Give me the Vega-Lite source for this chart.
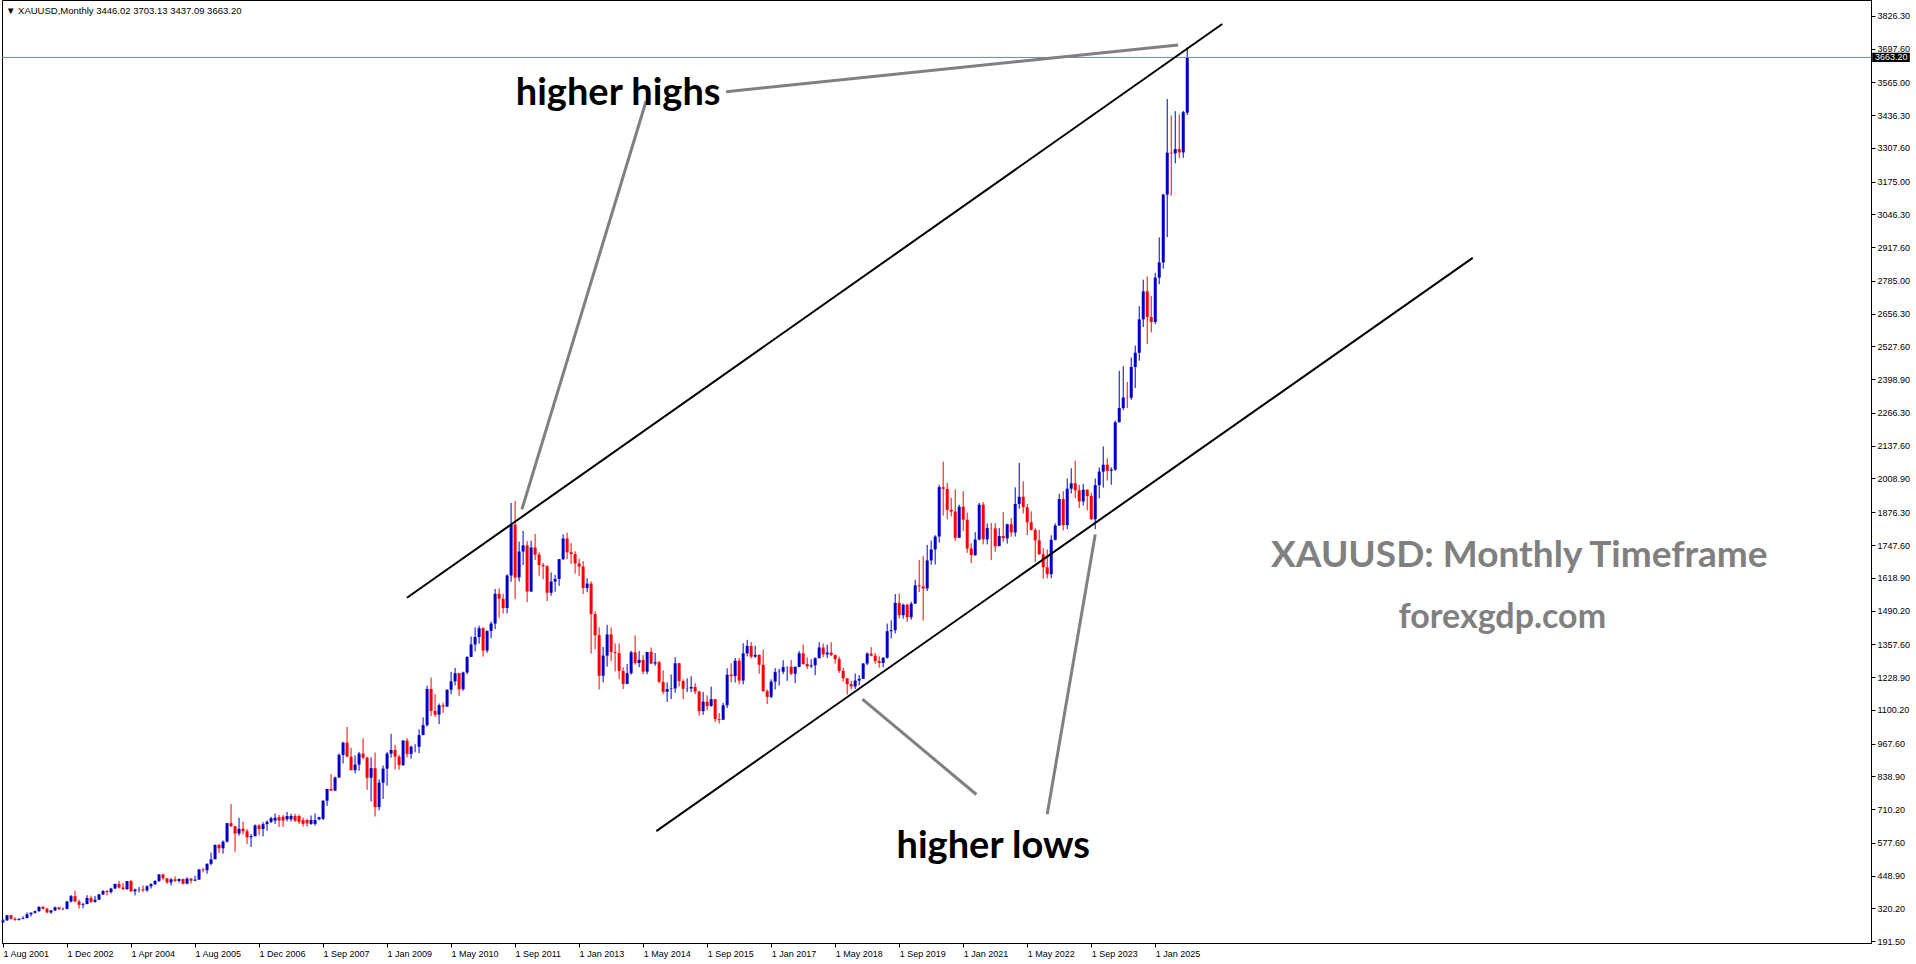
{
"$schema": "https://vega.github.io/schema/vega-lite/v6.json",
"width": 1869, "height": 943,
"autosize": {"type": "none"},
"padding": {"left": 2, "top": 0, "right": 45, "bottom": 21},
"background": "white",
"config": {"view": {"stroke": "#000000", "strokeWidth": 1}, "axis": {"grid": false, "title": null, "domainColor": "#000000", "tickColor": "#000000", "labelColor": "#000000", "labelFont": "Liberation Sans", "labelFontSize": 9, "labelOverlap": false, "labelSeparation": 0, "labelBound": false}},
"datasets": {
"candles": [
{"i":0,"o":265,"h":279,"l":264,"c":273},{"i":1,"o":273,"h":294,"l":271,"c":293},{"i":2,"o":293,"h":294,"l":276,"c":279},{"i":3,"o":279,"h":285,"l":271,"c":275},{"i":4,"o":275,"h":281,"l":272,"c":279},
{"i":5,"o":279,"h":289,"l":277,"c":282},{"i":6,"o":282,"h":304,"l":281,"c":297},{"i":7,"o":297,"h":304,"l":288,"c":303},{"i":8,"o":303,"h":311,"l":299,"c":309},{"i":9,"o":309,"h":328,"l":307,"c":326},{"i":10,"o":326,"h":330,"l":316,"c":318},{"i":11,"o":318,"h":323,"l":301,"c":304},{"i":12,"o":304,"h":314,"l":299,"c":312},{"i":13,"o":312,"h":327,"l":309,"c":324},{"i":14,"o":324,"h":326,"l":313,"c":317},{"i":15,"o":317,"h":323,"l":313,"c":318},{"i":16,"o":318,"h":349,"l":316,"c":347},
{"i":17,"o":347,"h":373,"l":343,"c":368},{"i":18,"o":368,"h":390,"l":345,"c":347},{"i":19,"o":347,"h":354,"l":319,"c":334},{"i":20,"o":334,"h":342,"l":320,"c":337},{"i":21,"o":337,"h":372,"l":336,"c":361},{"i":22,"o":361,"h":370,"l":341,"c":346},{"i":23,"o":346,"h":369,"l":342,"c":354},{"i":24,"o":354,"h":377,"l":353,"c":375},{"i":25,"o":375,"h":392,"l":372,"c":388},{"i":26,"o":388,"h":392,"l":371,"c":384},{"i":27,"o":384,"h":401,"l":378,"c":398},{"i":28,"o":398,"h":417,"l":396,"c":416},
{"i":29,"o":416,"h":428,"l":398,"c":402},{"i":30,"o":402,"h":420,"l":392,"c":396},{"i":31,"o":396,"h":427,"l":392,"c":427},{"i":32,"o":427,"h":432,"l":386,"c":387},{"i":33,"o":387,"h":398,"l":371,"c":394},{"i":34,"o":394,"h":404,"l":383,"c":395},{"i":35,"o":395,"h":410,"l":384,"c":391},{"i":36,"o":391,"h":410,"l":385,"c":407},{"i":37,"o":407,"h":419,"l":398,"c":415},{"i":38,"o":415,"h":430,"l":411,"c":428},{"i":39,"o":428,"h":455,"l":424,"c":453},{"i":40,"o":453,"h":457,"l":430,"c":438},
{"i":41,"o":438,"h":440,"l":416,"c":422},{"i":42,"o":422,"h":439,"l":410,"c":434},{"i":43,"o":434,"h":446,"l":424,"c":428},{"i":44,"o":428,"h":438,"l":421,"c":435},{"i":45,"o":435,"h":437,"l":414,"c":417},{"i":46,"o":417,"h":442,"l":415,"c":437},{"i":47,"o":437,"h":439,"l":418,"c":429},{"i":48,"o":429,"h":448,"l":427,"c":433},{"i":49,"o":433,"h":474,"l":432,"c":473},{"i":50,"o":473,"h":478,"l":461,"c":470},{"i":51,"o":470,"h":497,"l":456,"c":495},{"i":52,"o":495,"h":539,"l":489,"c":513},
{"i":53,"o":513,"h":572,"l":513,"c":569},{"i":54,"o":569,"h":574,"l":538,"c":556},{"i":55,"o":556,"h":587,"l":535,"c":582},{"i":56,"o":582,"h":655,"l":579,"c":655},{"i":57,"o":655,"h":730,"l":640,"c":643},{"i":58,"o":643,"h":644,"l":542,"c":614},{"i":59,"o":614,"h":676,"l":606,"c":633},{"i":60,"o":633,"h":661,"l":611,"c":623},{"i":61,"o":623,"h":632,"l":573,"c":599},{"i":62,"o":599,"h":612,"l":561,"c":604},{"i":63,"o":604,"h":650,"l":603,"c":646},{"i":64,"o":646,"h":650,"l":607,"c":632},
{"i":65,"o":632,"h":659,"l":603,"c":651},{"i":66,"o":651,"h":666,"l":625,"c":660},{"i":67,"o":660,"h":680,"l":655,"c":674},{"i":68,"o":665,"h":693,"l":652,"c":676},{"i":69,"o":678,"h":687,"l":640,"c":665},{"i":70,"o":680,"h":687,"l":640,"c":665},{"i":71,"o":670,"h":699,"l":662,"c":683},{"i":72,"o":670,"h":692,"l":661,"c":683},{"i":73,"o":683,"h":692,"l":660,"c":664},{"i":74,"o":683,"h":688,"l":652,"c":660},{"i":75,"o":667,"h":677,"l":641,"c":652},{"i":76,"o":667,"h":672,"l":641,"c":654},{"i":77,"o":652,"h":685,"l":648,"c":667},{"i":78,"o":652,"h":693,"l":645,"c":667},{"i":79,"o":670,"h":680,"l":666,"c":678},
{"i":80,"o":672,"h":745,"l":667,"c":743},{"i":81,"o":743,"h":790,"l":723,"c":789},{"i":82,"o":789,"h":848,"l":781,"c":783},{"i":83,"o":783,"h":838,"l":781,"c":834},
{"i":84,"o":834,"h":929,"l":833,"c":923},{"i":85,"o":923,"h":975,"l":889,"c":971},{"i":86,"o":971,"h":1033,"l":916,"c":916},{"i":87,"o":916,"h":951,"l":863,"c":863},{"i":88,"o":863,"h":921,"l":850,"c":885},{"i":89,"o":885,"h":935,"l":861,"c":928},{"i":90,"o":928,"h":988,"l":906,"c":912},{"i":91,"o":912,"h":916,"l":786,"c":833},{"i":92,"o":833,"h":913,"l":740,"c":871},{"i":93,"o":871,"h":932,"l":681,"c":718},{"i":94,"o":718,"h":827,"l":705,"c":814},{"i":95,"o":814,"h":881,"l":750,"c":869},
{"i":96,"o":869,"h":935,"l":802,"c":928},{"i":97,"o":928,"h":1006,"l":912,"c":942},{"i":98,"o":942,"h":962,"l":866,"c":916},{"i":99,"o":916,"h":924,"l":865,"c":883},{"i":100,"o":883,"h":981,"l":880,"c":979},{"i":101,"o":979,"h":989,"l":913,"c":927},{"i":102,"o":927,"h":960,"l":908,"c":955},{"i":103,"o":955,"h":965,"l":933,"c":955},{"i":104,"o":955,"h":1024,"l":930,"c":1001},{"i":105,"o":1001,"h":1070,"l":1000,"c":1040},{"i":106,"o":1040,"h":1195,"l":1034,"c":1182},{"i":107,"o":1182,"h":1227,"l":1075,"c":1096},
{"i":108,"o":1096,"h":1162,"l":1072,"c":1081},{"i":109,"o":1081,"h":1125,"l":1044,"c":1118},{"i":110,"o":1118,"h":1128,"l":1088,"c":1113},{"i":111,"o":1113,"h":1181,"l":1111,"c":1179},{"i":112,"o":1179,"h":1249,"l":1161,"c":1212},{"i":113,"o":1212,"h":1265,"l":1196,"c":1244},{"i":114,"o":1244,"h":1245,"l":1155,"c":1181},{"i":115,"o":1181,"h":1250,"l":1175,"c":1247},{"i":116,"o":1247,"h":1310,"l":1240,"c":1308},{"i":117,"o":1308,"h":1388,"l":1307,"c":1357},{"i":118,"o":1357,"h":1424,"l":1330,"c":1386},{"i":119,"o":1386,"h":1431,"l":1360,"c":1421},
{"i":120,"o":1421,"h":1424,"l":1309,"c":1333},{"i":121,"o":1333,"h":1412,"l":1324,"c":1410},{"i":122,"o":1410,"h":1447,"l":1381,"c":1439},{"i":123,"o":1439,"h":1575,"l":1417,"c":1556},{"i":124,"o":1556,"h":1577,"l":1462,"c":1536},{"i":125,"o":1536,"h":1556,"l":1478,"c":1500},{"i":126,"o":1500,"h":1632,"l":1479,"c":1628},{"i":127,"o":1628,"h":1913,"l":1603,"c":1828},{"i":128,"o":1828,"h":1921,"l":1535,"c":1620},{"i":129,"o":1620,"h":1761,"l":1604,"c":1722},{"i":130,"o":1722,"h":1803,"l":1669,"c":1746},{"i":131,"o":1746,"h":1763,"l":1523,"c":1565},
{"i":132,"o":1565,"h":1764,"l":1563,"c":1738},{"i":133,"o":1738,"h":1791,"l":1689,"c":1710},{"i":134,"o":1710,"h":1719,"l":1627,"c":1669},{"i":135,"o":1669,"h":1677,"l":1613,"c":1664},{"i":136,"o":1664,"h":1669,"l":1527,"c":1560},{"i":137,"o":1560,"h":1640,"l":1548,"c":1604},{"i":138,"o":1604,"h":1630,"l":1564,"c":1614},{"i":139,"o":1614,"h":1693,"l":1587,"c":1692},{"i":140,"o":1692,"h":1790,"l":1688,"c":1773},{"i":141,"o":1773,"h":1796,"l":1693,"c":1719},{"i":142,"o":1719,"h":1755,"l":1673,"c":1712},{"i":143,"o":1712,"h":1723,"l":1635,"c":1675},
{"i":144,"o":1675,"h":1694,"l":1626,"c":1663},{"i":145,"o":1663,"h":1684,"l":1555,"c":1579},{"i":146,"o":1579,"h":1617,"l":1562,"c":1596},{"i":147,"o":1596,"h":1605,"l":1321,"c":1476},{"i":148,"o":1476,"h":1487,"l":1338,"c":1393},{"i":149,"o":1393,"h":1424,"l":1180,"c":1234},{"i":150,"o":1234,"h":1347,"l":1208,"c":1313},{"i":151,"o":1313,"h":1434,"l":1270,"c":1396},{"i":152,"o":1396,"h":1424,"l":1292,"c":1327},{"i":153,"o":1327,"h":1361,"l":1251,"c":1323},{"i":154,"o":1323,"h":1361,"l":1221,"c":1253},{"i":155,"o":1253,"h":1267,"l":1182,"c":1202},
{"i":156,"o":1202,"h":1280,"l":1202,"c":1244},{"i":157,"o":1244,"h":1332,"l":1238,"c":1326},{"i":158,"o":1326,"h":1392,"l":1277,"c":1284},{"i":159,"o":1284,"h":1331,"l":1268,"c":1296},{"i":160,"o":1296,"h":1315,"l":1240,"c":1250},{"i":161,"o":1250,"h":1326,"l":1240,"c":1327},{"i":162,"o":1327,"h":1345,"l":1281,"c":1282},{"i":163,"o":1282,"h":1323,"l":1273,"c":1287},{"i":164,"o":1287,"h":1292,"l":1205,"c":1210},{"i":165,"o":1210,"h":1255,"l":1161,"c":1171},{"i":166,"o":1171,"h":1208,"l":1131,"c":1182},{"i":167,"o":1182,"h":1239,"l":1142,"c":1184},
{"i":168,"o":1184,"h":1307,"l":1167,"c":1283},{"i":169,"o":1283,"h":1284,"l":1191,"c":1213},{"i":170,"o":1213,"h":1220,"l":1142,"c":1183},{"i":171,"o":1183,"h":1224,"l":1170,"c":1184},{"i":172,"o":1184,"h":1232,"l":1170,"c":1190},{"i":173,"o":1190,"h":1205,"l":1162,"c":1172},{"i":174,"o":1172,"h":1175,"l":1077,"c":1095},{"i":175,"o":1095,"h":1170,"l":1080,"c":1132},{"i":176,"o":1132,"h":1157,"l":1098,"c":1115},{"i":177,"o":1115,"h":1191,"l":1112,"c":1142},{"i":178,"o":1142,"h":1143,"l":1052,"c":1064},{"i":179,"o":1064,"h":1088,"l":1046,"c":1061},
{"i":180,"o":1061,"h":1127,"l":1062,"c":1118},{"i":181,"o":1118,"h":1263,"l":1107,"c":1238},{"i":182,"o":1238,"h":1283,"l":1208,"c":1233},{"i":183,"o":1233,"h":1304,"l":1207,"c":1293},{"i":184,"o":1293,"h":1304,"l":1200,"c":1215},{"i":185,"o":1215,"h":1362,"l":1200,"c":1322},{"i":186,"o":1322,"h":1375,"l":1310,"c":1351},{"i":187,"o":1351,"h":1366,"l":1302,"c":1309},{"i":188,"o":1309,"h":1352,"l":1304,"c":1316},{"i":189,"o":1316,"h":1318,"l":1242,"c":1277},{"i":190,"o":1277,"h":1337,"l":1171,"c":1173},{"i":191,"o":1173,"h":1180,"l":1123,"c":1151},
{"i":192,"o":1151,"h":1220,"l":1146,"c":1211},{"i":193,"o":1211,"h":1264,"l":1180,"c":1249},{"i":194,"o":1249,"h":1261,"l":1195,"c":1250},{"i":195,"o":1250,"h":1295,"l":1241,"c":1268},{"i":196,"o":1268,"h":1270,"l":1214,"c":1269},{"i":197,"o":1269,"h":1296,"l":1236,"c":1242},{"i":198,"o":1242,"h":1270,"l":1205,"c":1269},{"i":199,"o":1269,"h":1331,"l":1267,"c":1322},{"i":200,"o":1322,"h":1357,"l":1277,"c":1280},{"i":201,"o":1280,"h":1306,"l":1261,"c":1271},{"i":202,"o":1271,"h":1299,"l":1264,"c":1275},{"i":203,"o":1275,"h":1306,"l":1236,"c":1303},
{"i":204,"o":1303,"h":1366,"l":1302,"c":1345},{"i":205,"o":1345,"h":1361,"l":1307,"c":1318},{"i":206,"o":1318,"h":1356,"l":1303,"c":1325},{"i":207,"o":1325,"h":1366,"l":1311,"c":1315},{"i":208,"o":1315,"h":1318,"l":1282,"c":1299},{"i":209,"o":1299,"h":1309,"l":1245,"c":1253},{"i":210,"o":1253,"h":1265,"l":1211,"c":1224},{"i":211,"o":1224,"h":1224,"l":1160,"c":1201},{"i":212,"o":1201,"h":1214,"l":1180,"c":1192},{"i":213,"o":1192,"h":1243,"l":1182,"c":1215},{"i":214,"o":1215,"h":1237,"l":1196,"c":1222},{"i":215,"o":1222,"h":1284,"l":1221,"c":1282},
{"i":216,"o":1282,"h":1326,"l":1276,"c":1321},{"i":217,"o":1321,"h":1346,"l":1310,"c":1313},{"i":218,"o":1313,"h":1324,"l":1281,"c":1292},{"i":219,"o":1292,"h":1310,"l":1266,"c":1284},{"i":220,"o":1284,"h":1306,"l":1267,"c":1305},{"i":221,"o":1305,"h":1439,"l":1301,"c":1409},{"i":222,"o":1409,"h":1452,"l":1381,"c":1413},{"i":223,"o":1413,"h":1555,"l":1400,"c":1520},{"i":224,"o":1520,"h":1557,"l":1459,"c":1472},{"i":225,"o":1472,"h":1517,"l":1458,"c":1513},{"i":226,"o":1513,"h":1516,"l":1445,"c":1464},{"i":227,"o":1464,"h":1525,"l":1454,"c":1517},
{"i":228,"o":1517,"h":1611,"l":1517,"c":1589},{"i":229,"o":1589,"h":1689,"l":1563,"c":1585},{"i":230,"o":1585,"h":1704,"l":1451,"c":1577},{"i":231,"o":1577,"h":1748,"l":1567,"c":1687},{"i":232,"o":1687,"h":1765,"l":1670,"c":1730},{"i":233,"o":1730,"h":1786,"l":1671,"c":1781},{"i":234,"o":1781,"h":1984,"l":1757,"c":1975},{"i":235,"o":1975,"h":2075,"l":1863,"c":1968},{"i":236,"o":1968,"h":1992,"l":1849,"c":1886},{"i":237,"o":1886,"h":1933,"l":1860,"c":1879},{"i":238,"o":1879,"h":1966,"l":1764,"c":1776},{"i":239,"o":1776,"h":1906,"l":1776,"c":1898},
{"i":240,"o":1898,"h":1959,"l":1803,"c":1847},{"i":241,"o":1847,"h":1875,"l":1717,"c":1734},{"i":242,"o":1734,"h":1755,"l":1677,"c":1708},{"i":243,"o":1708,"h":1798,"l":1705,"c":1769},{"i":244,"o":1769,"h":1913,"l":1766,"c":1906},{"i":245,"o":1906,"h":1916,"l":1750,"c":1770},{"i":246,"o":1770,"h":1832,"l":1750,"c":1814},{"i":247,"o":1814,"h":1834,"l":1688,"c":1813},{"i":248,"o":1813,"h":1834,"l":1721,"c":1743},{"i":249,"o":1743,"h":1814,"l":1746,"c":1783},{"i":250,"o":1783,"h":1877,"l":1759,"c":1774},{"i":251,"o":1774,"h":1831,"l":1753,"c":1829},
{"i":252,"o":1829,"h":1853,"l":1780,"c":1797},{"i":253,"o":1797,"h":1974,"l":1781,"c":1909},{"i":254,"o":1909,"h":2070,"l":1890,"c":1937},{"i":255,"o":1937,"h":1998,"l":1872,"c":1896},{"i":256,"o":1896,"h":1909,"l":1787,"c":1837},{"i":257,"o":1837,"h":1880,"l":1805,"c":1807},{"i":258,"o":1807,"h":1814,"l":1681,"c":1766},{"i":259,"o":1766,"h":1807,"l":1710,"c":1711},{"i":260,"o":1711,"h":1735,"l":1615,"c":1660},{"i":261,"o":1660,"h":1730,"l":1617,"c":1633},{"i":262,"o":1633,"h":1786,"l":1617,"c":1768},{"i":263,"o":1768,"h":1833,"l":1766,"c":1824},
{"i":264,"o":1824,"h":1949,"l":1823,"c":1928},{"i":265,"o":1928,"h":1959,"l":1805,"c":1826},{"i":266,"o":1826,"h":2009,"l":1810,"c":1969},{"i":267,"o":1969,"h":2049,"l":1950,"c":1990},{"i":268,"o":1990,"h":2079,"l":1932,"c":1963},{"i":269,"o":1963,"h":1984,"l":1893,"c":1919},{"i":270,"o":1919,"h":1987,"l":1903,"c":1965},{"i":271,"o":1965,"h":1966,"l":1884,"c":1940},{"i":272,"o":1940,"h":1953,"l":1847,"c":1849},{"i":273,"o":1849,"h":2009,"l":1810,"c":1983},{"i":274,"o":1983,"h":2052,"l":1931,"c":2036},{"i":275,"o":2036,"h":2135,"l":1973,"c":2063},
{"i":276,"o":2063,"h":2088,"l":2001,"c":2039},{"i":277,"o":2039,"h":2053,"l":1984,"c":2044},{"i":278,"o":2044,"h":2236,"l":2039,"c":2230},{"i":279,"o":2230,"h":2432,"l":2229,"c":2286},{"i":280,"o":2286,"h":2450,"l":2277,"c":2327},{"i":281,"o":2327,"h":2388,"l":2286,"c":2326},{"i":282,"o":2326,"h":2484,"l":2318,"c":2447},{"i":283,"o":2447,"h":2531,"l":2364,"c":2503},{"i":284,"o":2503,"h":2686,"l":2472,"c":2634},{"i":285,"o":2634,"h":2790,"l":2604,"c":2744},{"i":286,"o":2744,"h":2802,"l":2537,"c":2643},{"i":287,"o":2643,"h":2726,"l":2583,"c":2624},
{"i":288,"o":2624,"h":2817,"l":2615,"c":2798},{"i":289,"o":2798,"h":2956,"l":2772,"c":2858},{"i":290,"o":2858,"h":3128,"l":2833,"c":3124},{"i":291,"o":3124,"h":3500,"l":2957,"c":3289},{"i":292,"o":3289,"h":3435,"l":3120,"c":3286},{"i":293,"o":3286,"h":3452,"l":3247,"c":3303},{"i":294,"o":3303,"h":3439,"l":3268,"c":3290},{"i":295,"o":3290,"h":3453,"l":3269,"c":3448},{"i":296,"o":3446.02,"h":3703.13,"l":3437.09,"c":3663.2}
],
"channels": [
{"kind":"trend","i1":100.97,"p1":1540.5,"i2":304.75,"p2":3794.5},
{"kind":"trend","i1":163.3,"p1":623.7,"i2":367.35,"p2":2875.7},
{"kind":"pointer","i1":180.75,"p1":3528.5,"i2":293.7,"p2":3712},
{"kind":"pointer","i1":160.75,"p1":3491.9,"i2":129.7,"p2":1887.5},
{"kind":"pointer","i1":214.8,"p1":1142,"i2":243.3,"p2":767.5},
{"kind":"pointer","i1":273,"p1":1789.2,"i2":261,"p2":690}
],
"notes": [
{"kind":"note","text":"higher highs","i":153.75,"p":3476},
{"kind":"note","text":"higher lows","i":247.5,"p":517},
{"kind":"title","text":"XAUUSD: Monthly Timeframe","i":379,"p":1662},
{"kind":"site","text":"forexgdp.com","i":374.75,"p":1420}
],
"bid": [{"price":3663.2,"title":"▼ XAUUSD,Monthly  3446.02 3703.13 3437.09 3663.20"}]
},
"layer": [
{"data": {"name": "candles"},
 "mark": {"type": "rule", "strokeWidth": 1},
 "encoding": {
  "x": {"field": "i", "type": "quantitative", "title": null, "scale": {"domain": [-0.25, 466.9], "nice": false, "zero": false},
        "axis": {"title": null, "orient": "bottom", "values": [0,16,32,48,64,80,96,112,128,144,160,176,192,208,224,240,256,272,288],
                 "labelExpr": "['1 Aug 2001','1 Dec 2002','1 Apr 2004','1 Aug 2005','1 Dec 2006','1 Sep 2007','1 Jan 2009','1 May 2010','1 Sep 2011','1 Jan 2013','1 May 2014','1 Sep 2015','1 Jan 2017','1 May 2018','1 Sep 2019','1 Jan 2021','1 May 2022','1 Sep 2023','1 Jan 2025'][round(datum.value/16)]",
                 "tickCount": 40, "labelAlign": "left", "labelPadding": 2, "tickSize": 4, "labelOverlap": false, "labelFlush": false}},
  "y": {"field": "l", "type": "quantitative", "title": null, "scale": {"domain": [184, 3888.8], "nice": false, "zero": false},
        "axis": {"title": null, "orient": "right", "values": [191.5,320.2,448.9,577.6,710.2,838.9,967.6,1100.2,1228.9,1357.6,1490.2,1618.9,1747.6,1876.3,2008.9,2137.6,2266.3,2398.9,2527.6,2656.3,2785,2917.6,3046.3,3175,3307.6,3436.3,3565,3697.6,3826.3],
                 "tickCount": 60, "labelExpr": "format(datum.value, '.2f')", "tickSize": 4, "labelPadding": 2, "labelOverlap": false, "labelFlush": false, "labelBaseline": "middle"}},
  "y2": {"field": "h"},
  "color": {"condition": {"test": "datum.c >= datum.o", "value": "#0000cc"}, "value": "#ff0000"}
 }},
{"data": {"name": "candles"},
 "mark": {"type": "rule", "strokeWidth": 3},
 "encoding": {
  "x": {"field": "i", "type": "quantitative", "title": null},
  "y": {"field": "o", "type": "quantitative", "title": null},
  "y2": {"field": "c"},
  "color": {"condition": {"test": "datum.c >= datum.o", "value": "#0000cc"}, "value": "#ff0000"}
 }},
{"data": {"name": "bid"},
 "mark": {"type": "rule", "strokeWidth": 1, "color": "#778899"},
 "encoding": {"y": {"field": "price", "type": "quantitative", "title": null}}},
{"data": {"name": "channels"},
 "transform": [{"filter": "datum.kind == 'trend'"}],
 "mark": {"type": "rule", "strokeWidth": 2, "color": "#000000"},
 "encoding": {
  "x": {"field": "i1", "type": "quantitative", "title": null}, "x2": {"field": "i2"},
  "y": {"field": "p1", "type": "quantitative", "title": null}, "y2": {"field": "p2"}}},
{"data": {"name": "channels"},
 "transform": [{"filter": "datum.kind == 'pointer'"}],
 "mark": {"type": "rule", "strokeWidth": 3, "color": "#808080"},
 "encoding": {
  "x": {"field": "i1", "type": "quantitative", "title": null}, "x2": {"field": "i2"},
  "y": {"field": "p1", "type": "quantitative", "title": null}, "y2": {"field": "p2"}}},
{"data": {"name": "notes"},
 "transform": [{"filter": "datum.kind == 'note'"}],
 "mark": {"type": "text", "font": "Lato", "fontWeight": "bold", "fontSize": 38, "color": "#000000", "align": "center", "baseline": "alphabetic"},
 "encoding": {
  "x": {"field": "i", "type": "quantitative", "title": null},
  "y": {"field": "p", "type": "quantitative", "title": null},
  "text": {"field": "text"}}},
{"data": {"name": "notes"},
 "transform": [{"filter": "datum.kind == 'title'"}],
 "mark": {"type": "text", "font": "Lato", "fontWeight": "bold", "fontSize": 37, "color": "#808080", "align": "center", "baseline": "alphabetic"},
 "encoding": {
  "x": {"field": "i", "type": "quantitative", "title": null},
  "y": {"field": "p", "type": "quantitative", "title": null},
  "text": {"field": "text"}}},
{"data": {"name": "notes"},
 "transform": [{"filter": "datum.kind == 'site'"}],
 "mark": {"type": "text", "font": "Lato", "fontWeight": "bold", "fontSize": 34, "color": "#808080", "align": "center", "baseline": "alphabetic"},
 "encoding": {
  "x": {"field": "i", "type": "quantitative", "title": null},
  "y": {"field": "p", "type": "quantitative", "title": null},
  "text": {"field": "text"}}},
{"data": {"name": "bid"},
 "mark": {"type": "text", "font": "Liberation Sans", "fontSize": 9.5, "color": "#000000", "align": "left", "baseline": "middle"},
 "encoding": {
  "x": {"datum": 0.75, "type": "quantitative", "title": null},
  "y": {"datum": 3846.8, "type": "quantitative", "title": null},
  "text": {"field": "title"}}},
{"data": {"name": "bid"},
 "mark": {"type": "rect", "color": "#000000"},
 "encoding": {
  "x": {"datum": 467.2, "type": "quantitative", "title": null}, "x2": {"datum": 476.6},
  "y": {"datum": 3681.7, "type": "quantitative", "title": null}, "y2": {"datum": 3645.5}}},
{"data": {"name": "bid"},
 "mark": {"type": "text", "font": "Liberation Sans", "fontSize": 9, "color": "#ffffff", "align": "left", "baseline": "middle"},
 "encoding": {
  "x": {"datum": 467.9, "type": "quantitative", "title": null},
  "y": {"field": "price", "type": "quantitative", "title": null},
  "text": {"field": "price", "type": "quantitative", "format": ".2f"}}}
]
}
